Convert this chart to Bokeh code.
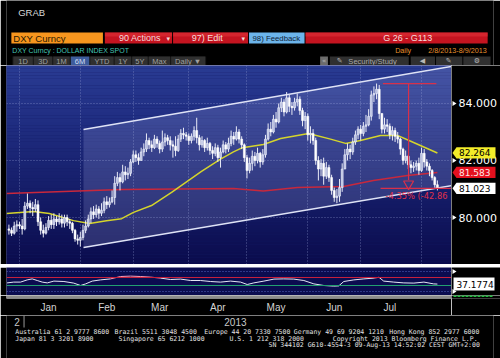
import numpy as np
import pandas as pd
from bokeh.plotting import figure
from bokeh.layouts import column, row
from bokeh.models import Range1d, FixedTicker, Span
from bokeh.core.properties import value
from bokeh.embed import file_html
from bokeh.resources import INLINE

# ---------------- data ----------------
dates = pd.bdate_range("2012-12-26", "2013-08-09")   # daily bars, DXY Curncy

opens = [
    79.60, 79.55, 79.45, 79.70,
    79.75, 79.70, 79.60, 80.40,
    80.50, 80.35, 80.30, 80.45, 79.85,
    79.55, 79.45, 79.65, 79.90, 79.75,
    79.95, 79.85, 79.95, 79.80, 80.00,
    79.85, 79.80, 79.55, 79.25,
    79.20,
    79.30, 79.55, 79.70, 79.95, 80.20,
    80.10, 80.30, 80.15, 80.25, 80.55,
    80.45, 80.55, 80.70, 81.20, 81.40,
    81.25, 81.60, 81.50, 81.55,
    81.95,
    82.20, 82.10, 82.00, 82.30, 82.40,
    82.70, 82.55, 82.45, 82.75, 82.60,
    82.40, 82.65, 82.80, 82.70, 82.55,
    82.50, 82.35, 82.75, 82.95, 82.90,
    82.85, 82.70, 82.85, 83.05, 82.80,
    82.55, 82.70, 82.45, 82.60, 82.35,
    82.25, 82.45, 82.10, 82.30, 82.55,
    82.40, 82.60, 82.85, 82.75, 83.00,
    82.75, 82.55,
    82.10, 81.65, 81.90,
    82.15, 82.00, 82.25, 81.95, 82.20,
    82.75, 83.10, 83.00, 83.45, 83.35,
    83.85, 84.05, 83.70, 84.20, 83.90,
    83.85, 84.05, 84.15, 83.75, 83.40,
    83.55, 82.90, 82.95, 82.70, 82.00,
    81.70, 81.90, 81.45, 81.75, 81.40,
    80.95, 80.70, 80.75, 81.05, 81.70,
    82.20, 82.40, 82.30, 82.65, 82.90,
    83.10, 82.95, 83.20, 83.25, 83.55,
    84.30, 84.35, 84.50, 83.65, 83.10,
    83.25, 83.20, 82.90, 83.05, 82.85,
    82.75, 82.40, 82.00, 82.15, 81.85,
    81.75, 81.80, 81.90,
    81.65, 82.25,
    81.95, 81.80, 81.65, 81.40, 81.15,
]
highs = [
    79.75, 79.65, 79.85, 79.90,
    79.85, 79.95, 80.55, 80.84,
    80.60, 80.55, 80.65, 80.60, 80.00,
    79.75, 79.80, 80.05, 80.10, 80.15,
    80.05, 80.15, 80.10, 80.10, 80.10,
    79.95, 79.85, 79.60, 79.40,
    79.50,
    79.75, 79.90, 80.10, 80.35, 80.40,
    80.45, 80.40, 80.50, 80.70, 80.75,
    80.70, 80.95, 81.45, 81.60, 81.55,
    81.85, 81.80, 81.75, 82.05,
    82.35,
    82.35, 82.25, 82.45, 82.60, 82.95,
    82.80, 82.70, 82.90, 82.85, 82.70,
    83.05, 82.95, 82.90, 82.85, 82.70,
    82.85, 82.90, 83.10, 83.15, 83.00,
    82.95, 82.95, 83.20, 83.50, 82.90,
    82.85, 82.75, 82.80, 82.65, 82.50,
    82.60, 82.55, 82.45, 82.70, 82.65,
    82.80, 83.05, 83.00, 83.20, 83.10,
    82.85, 82.60,
    82.20, 82.10, 82.35,
    82.30, 82.45, 82.30, 82.40, 82.90,
    83.30, 83.35, 83.60, 83.70, 84.00,
    84.20, 84.15, 84.40, 84.30, 84.05,
    84.20, 84.35, 84.25, 83.85, 83.70,
    83.65, 83.20, 83.10, 82.80, 82.15,
    82.05, 82.10, 81.95, 81.85, 81.50,
    81.05, 81.00, 81.35, 81.90, 82.40,
    82.60, 82.55, 82.80, 83.05, 83.20,
    83.25, 83.35, 83.60, 83.80, 84.45,
    84.60, 84.70, 84.65, 83.60, 83.50,
    83.45, 83.30, 83.20, 83.15, 83.00,
    82.80, 82.45, 82.35, 82.20, 82.00,
    81.95, 82.00, 82.10,
    82.45, 82.40,
    82.05, 81.90, 81.70, 81.45, 81.30,
]
lows = [
    79.40, 79.35, 79.40, 79.50,
    79.60, 79.40, 79.55, 80.30,
    80.15, 80.05, 80.20, 79.70, 79.40,
    79.30, 79.40, 79.55, 79.60, 79.60,
    79.70, 79.75, 79.65, 79.65, 79.70,
    79.60, 79.45, 79.15, 79.05,
    78.98,
    79.20, 79.45, 79.65, 79.80, 79.95,
    80.00, 79.95, 80.05, 80.15, 80.30,
    80.35, 80.50, 80.45, 81.10, 80.95,
    81.20, 81.30, 81.35, 81.45,
    81.90,
    81.95, 81.85, 82.00, 82.15, 82.30,
    82.40, 82.30, 82.40, 82.45, 82.25,
    82.30, 82.50, 82.55, 82.35, 82.10,
    82.15, 82.30, 82.65, 82.75, 82.70,
    82.55, 82.60, 82.70, 82.60, 82.35,
    82.45, 82.30, 82.35, 82.20, 82.05,
    82.15, 81.95, 81.75, 82.25, 82.25,
    82.30, 82.50, 82.55, 82.70, 82.60,
    82.40, 81.95,
    81.37, 81.55, 81.65,
    81.80, 81.90, 81.75, 81.85, 82.10,
    82.70, 82.85, 82.95, 83.15, 83.30,
    83.70, 83.55, 83.65, 83.70, 83.60,
    83.75, 83.90, 83.60, 83.20, 83.10,
    82.70, 82.60, 82.55, 81.85, 81.30,
    81.45, 81.15, 81.35, 81.25, 80.80,
    80.55, 80.50, 80.55, 80.90, 81.80,
    82.00, 82.05, 82.20, 82.55, 82.75,
    82.70, 82.85, 83.00, 83.20, 83.40,
    84.05, 84.15, 83.45, 82.95, 82.95,
    83.00, 82.75, 82.70, 82.65, 82.60,
    82.20, 81.85, 81.90, 81.70, 81.55,
    81.60, 81.65, 81.50,
    81.60, 81.75,
    81.65, 81.45, 81.30, 81.05, 80.95,
]
closes = [
    79.55, 79.45, 79.70, 79.75,
    79.70, 79.60, 80.40, 80.50,
    80.35, 80.30, 80.45, 79.85, 79.55,
    79.45, 79.65, 79.90, 79.75, 79.95,
    79.85, 79.95, 79.80, 80.00, 79.85,
    79.80, 79.55, 79.25, 79.20,
    79.30,
    79.55, 79.70, 79.95, 80.20, 80.10,
    80.30, 80.15, 80.25, 80.55, 80.45,
    80.55, 80.70, 81.20, 81.40, 81.25,
    81.60, 81.50, 81.55, 81.95,
    82.20,
    82.10, 82.00, 82.30, 82.40, 82.70,
    82.55, 82.45, 82.75, 82.60, 82.40,
    82.65, 82.80, 82.70, 82.55, 82.50,
    82.35, 82.75, 82.95, 82.90, 82.85,
    82.70, 82.85, 83.05, 82.80, 82.55,
    82.70, 82.45, 82.60, 82.35, 82.25,
    82.45, 82.10, 82.30, 82.55, 82.40,
    82.60, 82.85, 82.75, 83.00, 82.75,
    82.55, 82.10,
    81.65, 81.90, 82.15,
    82.00, 82.25, 81.95, 82.20, 82.75,
    83.10, 83.00, 83.45, 83.35, 83.85,
    84.05, 83.70, 84.20, 83.90, 83.85,
    84.05, 84.15, 83.75, 83.40, 83.55,
    82.90, 82.95, 82.70, 82.00, 81.70,
    81.90, 81.45, 81.75, 81.40, 80.95,
    80.70, 80.75, 81.05, 81.70, 82.20,
    82.40, 82.30, 82.65, 82.90, 83.10,
    82.95, 83.20, 83.25, 83.55, 84.30,
    84.35, 84.50, 83.65, 83.10, 83.25,
    83.20, 82.90, 83.05, 82.85, 82.75,
    82.40, 82.00, 82.15, 81.85, 81.75,
    81.80, 81.90, 81.65,
    82.25, 81.95,
    81.80, 81.65, 81.40, 81.15, 81.02,
]

# moving averages (bar index, value)
ma_fast_x = [-4.9, 5.3, 11.3, 20.4, 26.5, 32.9, 38.6, 43.1, 49.9, 57.5, 68.8, 76.0,
             80.9, 84.3, 92.2, 98.7, 105.1, 109.3, 117.6, 123.3, 128.9, 136.5, 142.9, 149.0, 158.0]
ma_fast_v = [80.14, 80.21, 80.14, 79.89, 79.79, 79.89, 79.96, 80.18, 80.42, 80.88, 81.62, 82.05,
             82.30, 82.45, 82.56, 82.77, 82.88, 82.95, 82.75, 82.60, 82.70, 82.88, 82.88, 82.63, 82.264]
ma_slow_x = [-4.9, 38.6, 80.9, 92.2, 105.1, 122.5, 133.8, 146.7, 158.0]
ma_slow_v = [80.84, 80.98, 81.02, 80.93, 81.05, 81.09, 81.30, 81.47, 81.583]

# user-drawn trend channel (bar index, price)
chan_x = [24.2, 163.3]
chan_upper = [83.09, 85.30]
chan_lower = [78.95, 81.12]

# measure tool
meas_high = 84.70
meas_low = 81.02
meas_top_x = [137.4, 157.6]
meas_bot_x = [136.5, 163.3]
meas_mid_x = 147.1
meas_label = "-4.35% (-42.86"

# lower study
rsi_x = [-4.7, -2.2, 0.4, 2.9, 4.8, 6.7, 8.6, 10.5, 13.0, 16.8, 20.5, 23.1, 25.0, 27.5,
         30.6, 34.4, 38.2, 42.0, 45.7, 49.5, 53.3, 57.1, 60.9, 64.7, 68.4, 72.2, 76.0,
         79.8, 83.6, 86.1, 88.6, 92.4, 96.2, 99.9, 103.7, 107.5, 111.3, 115.1, 118.8,
         120.7, 122.6, 126.4, 130.2, 134.0, 135.9, 137.7, 141.5, 145.3, 149.1, 152.9,
         156.6, 158.0]
rsi_v = [43, 47, 47, 58, 63, 55, 47, 43, 52, 50, 42, 30, 38, 52,
         58, 63, 75, 77, 75, 72, 67, 60, 62, 55, 55, 50, 47,
         52, 47, 35, 43, 52, 62, 63, 62, 55, 38, 30, 27,
         28, 50, 58, 63, 67, 71, 52, 47, 43, 42, 47,
         38, 37.1774]
rsi_levels = [70, 30]
rsi_ticks = [0, 100]
rsi_last_text = "37.1774"

price_ticks = [80, 82, 84]
month_labels = ["Jan", "Feb", "Mar", "Apr", "May", "Jun", "Jul"]
tag_vals = [82.264, 81.583, 81.023]
tag_text = ["82.264", "81.583", "81.023"]

# ---------------- derived indices ----------------
off = int(np.where(dates == pd.Timestamp("2013-01-01"))[0][0])
idx = np.arange(len(dates)) - off
mon = dates.month
month_starts = [int(i - off) for i in range(1, len(dates)) if mon[i] != mon[i - 1]]
month_mid = [int((a + b) // 2) for a, b in zip(month_starts[:-1], month_starts[1:])]

o = np.array(opens); c = np.array(closes); h = np.array(highs); l = np.array(lows)
body_top = np.maximum(o, c); body_bot = np.minimum(o, c)
wick_hi = np.maximum(h, body_top); wick_lo = np.minimum(l, body_bot)

XR = Range1d(-4.915, 163.33)
YR = Range1d(78.351, 85.333)
PX_PER_PRICE = 199 / (YR.end - YR.start)
SANS = "Liberation Sans"
MONO = "DejaVu Sans Mono"


def blank(width, height, xr, yr, **kw):
    args = dict(width=width, height=height, x_range=xr, y_range=yr, x_axis_location=None,
                y_axis_location=None, toolbar_location=None, output_backend="svg",
                min_border=0, background_fill_color="black", border_fill_color="black",
                outline_line_color=None)
    args.update(kw)
    f = figure(**args)
    f.grid.visible = False
    return f


# ---------------- header ----------------
hdr = blank(500, 65, Range1d(0, 500), Range1d(65, 0))
hdr.quad(left=[5, 101, 171, 249, 307], right=[99, 170, 248, 306, 494], top=32, bottom=43,
         fill_color=["#f7961e", "#c41420", "#c41420", "#6cb4ea", "#c41420"], line_color=None)
hdr.quad(left=[101, 171, 307], right=[170, 248, 494], top=32, bottom=36,
         fill_color="#e03038", fill_alpha=0.6, line_color=None)
btn_l = [7, 28, 48, 66, 86, 111, 129, 146, 169]
btn_r = [27, 47, 65, 85, 110, 128, 145, 168, 204]
btn_t = ["1D", "3D", "1M", "6M", "YTD", "1Y", "5Y", "Max", "Daily \u25bc"]
hdr.quad(left=6, right=205, top=56, bottom=65, fill_color="#141414", line_color=None)
hdr.quad(left=btn_l, right=btn_r, top=56, bottom=65,
         fill_color=["#3d5c9c" if t == "6M" else "#303030" for t in btn_t], line_color=None)
hdr.text(x=[(a + b) / 2 for a, b in zip(btn_l, btn_r)], y=60.7, text=btn_t,
         text_font=value(SANS), text_font_size="7.5px", text_align="center", text_baseline="middle",
         text_color=["#d0dcf4" if t == "6M" else "#a0a0a0" for t in btn_t])
hdr.quad(left=[322, 332, 415, 441, 469], right=[330, 413, 440, 468, 497], top=56, bottom=65,
         fill_color=["#6c6c6c", "#303030", "#303030", "#303030", "#303030"], line_color=None)
hdr.text(x=[326, 342, 427, 454, 483], y=60.7,
         text=["\u00ab", "\u270e", "\u25c0", "\u270e", "\u2699"],
         text_font=value("DejaVu Sans"), text_font_size="7px", text_align="center",
         text_baseline="middle", text_color="#b8b8b8")
hdr.text(x=[351], y=[60.7], text=["Security/Study"], text_font=value(SANS), text_font_size="7.5px",
         text_baseline="middle", text_color="#a8a8a8")
hdr.text(x=[12], y=[12], text=["GRAB"], text_font=value(SANS), text_font_size="9.5px",
         text_baseline="middle", text_color="#d8d8d8")
hdr.text(x=[7], y=[37.8], text=["DXY Curncy"], text_font=value(SANS), text_font_size="9.5px",
         text_baseline="middle", text_color="#2a1800")
hdr.text(x=[137, 206, 412], y=37.8, text=["90 Actions", "97) Edit", "G 26 - G113"],
         text_font=value(SANS), text_font_size="9px", text_align="center",
         text_baseline="middle", text_color="#f6dcdc")
hdr.text(x=[166, 243], y=38, text=["\u25be", "\u25be"], text_font=value("DejaVu Sans"),
         text_font_size="7px", text_align="center", text_baseline="middle", text_color="#f6dcdc")
hdr.text(x=[277], y=[37.8], text=["98) Feedback"], text_font=value(SANS), text_font_size="7.8px",
         text_align="center", text_baseline="middle", text_color="#0e2236")
hdr.text(x=[6], y=[49.8], text=["DXY Curncy : DOLLAR INDEX SPOT"], text_font=value(SANS),
         text_font_size="7px", text_baseline="middle", text_color="#44c4b4")
hdr.text(x=[399], y=[49.8], text=["Daily"], text_font=value(SANS), text_font_size="7.2px",
         text_baseline="middle", text_color="#e8902c")
hdr.text(x=[493], y=[49.8], text=["2/8/2013-8/9/2013"], text_font=value(SANS),
         text_font_size="7.2px", text_align="right", text_baseline="middle", text_color="#e8902c")

# ---------------- price panel ----------------
p = figure(width=451, height=199, x_range=XR, y_range=YR, x_axis_location=None,
           y_axis_location=None, toolbar_location=None, output_backend="svg",
           min_border_left=6, min_border_right=0, min_border_top=0, min_border_bottom=0,
           background_fill_color="#141c66", border_fill_color="black", outline_line_color=None)

# vertical background gradient (styling)
stops_y = [YR.start, 80.5, 83.0, YR.end]
stops_c = [(0x0a, 0x0b, 0x4c), (0x13, 0x1a, 0x64), (0x1e, 0x2b, 0x7e), (0x29, 0x3b, 0x92)]
edges = np.linspace(YR.start, YR.end, 61)
mids = (edges[:-1] + edges[1:]) / 2
cols = []
for m in mids:
    rgb = [np.interp(m, stops_y, [s[k] for s in stops_c]) for k in range(3)]
    cols.append("#%02x%02x%02x" % tuple(int(round(v)) for v in rgb))
bg = p.quad(left=XR.start - 1, right=XR.end + 1, bottom=edges[:-1], top=edges[1:],
            fill_color=cols, line_color=None)
bg.level = "image"

p.xgrid.ticker = FixedTicker(ticks=month_starts)
p.ygrid.ticker = FixedTicker(ticks=price_ticks)
for g in (p.xgrid, p.ygrid):
    g.grid_line_color = "#9aa4d8"
    g.grid_line_alpha = 0.55
    g.grid_line_dash = "1 2"
    g.grid_line_width = 1
    g.visible = True

# channel
p.patch(x=[chan_x[0], chan_x[1], chan_x[1], chan_x[0]],
        y=[chan_upper[0], chan_upper[1], chan_lower[1], chan_lower[0]],
        fill_color="#c8d0ff", fill_alpha=0.17, line_color=None)
p.line(chan_x, chan_upper, line_color="#dfe3f6", line_width=1.5)
p.line(chan_x, chan_lower, line_color="#dfe3f6", line_width=1.5)

# moving averages
p.line(ma_slow_x, ma_slow_v, line_color="#c8283c", line_width=1.5)
p.line(ma_fast_x, ma_fast_v, line_color="#d4d42c", line_width=1.5)

# candles
p.segment(x0=idx, y0=wick_lo, x1=idx, y1=wick_hi, line_color="#e8eaf6", line_width=1)
up = c >= o
p.vbar(x=idx[up], width=0.72, top=body_top[up], bottom=body_bot[up],
       fill_color="#b8bee0", line_color="#f4f6ff", line_width=0.6)
p.vbar(x=idx[~up], width=0.72, top=body_top[~up], bottom=body_bot[~up],
       fill_color="#ffffff", line_color="#ffffff", line_width=0.6)

# measure tool
mcol = "#d8304a"
p.line(meas_top_x, [meas_high, meas_high], line_color=mcol, line_width=1.2)
p.line(meas_bot_x, [meas_low, meas_low], line_color=mcol, line_width=1.2)
p.line([meas_mid_x, meas_mid_x], [meas_high, meas_low + 0.3], line_color=mcol, line_width=1.2)
p.scatter(x=[meas_mid_x], y=[meas_low + 0.16], marker="inverted_triangle", size=10,
          fill_color=None, line_color=mcol, line_width=1.2)
p.text(x=[meas_top_x[0] + 1.0], y=[meas_low - 0.26], text=[meas_label],
       text_font=value("DejaVu Sans"), text_font_size="8.3px", text_color="#e0304a",
       text_baseline="middle")

# ---------------- right price scale (ticks, labels, last-value tags) ----------------
side = blank(49, 199, Range1d(0, 49), YR)
d = 2.5 / PX_PER_PRICE
side.patches(xs=[[1, 1, 5] for _ in price_ticks],
             ys=[[t + d, t - d, t] for t in price_ticks],
             fill_color="white", line_color=None)
side.text(x=7, y=price_ticks, text=["%.3f" % t for t in price_ticks],
          text_font=value("DejaVu Sans"), text_font_size="11px", text_color="white",
          text_baseline="middle")
hh = 5.6 / PX_PER_PRICE
side.patches(xs=[[1, 5, 44, 44, 5] for _ in tag_vals],
             ys=[[v, v + hh, v + hh, v - hh, v - hh] for v in tag_vals],
             fill_color=["#f3ec2a", "#e4101e", "#ffffff"], line_color=None)
side.text(x=7.5, y=tag_vals, text=tag_text, text_font=value("DejaVu Sans"),
          text_font_size="9px", text_color=["#000000", "#ffe8e8", "#000000"],
          text_baseline="middle")

# ---------------- separators & study ----------------
gb1 = blank(500, 3, Range1d(0, 1), Range1d(0, 1), min_border_left=6, min_border_right=7)
gb1.quad(left=0, right=1, top=1, bottom=0, fill_color="#8c8c8c", line_color=None)

RR = Range1d(-20, 120)
rsi = figure(width=451, height=28, x_range=XR, y_range=RR, x_axis_location=None,
             y_axis_location=None, toolbar_location=None, output_backend="svg",
             min_border_left=6, min_border_right=0, min_border_top=0, min_border_bottom=0,
             background_fill_color="#0b0c50", border_fill_color="black", outline_line_color=None)
rsi.xgrid.visible = False
rsi.ygrid.ticker = FixedTicker(ticks=rsi_ticks)
rsi.ygrid.grid_line_color = "#5464bc"
rsi.ygrid.grid_line_dash = "1 2"
rsi.add_layout(Span(location=rsi_levels[0], dimension="width", line_color="#c8203c", line_width=1.2))
rsi.add_layout(Span(location=rsi_levels[1], dimension="width", line_color="#22a070", line_width=1.2))
seg_x, seg_y, seg_c = [], [], []
for k in range(len(rsi_x) - 1):
    seg_x.append([rsi_x[k], rsi_x[k + 1]])
    seg_y.append([rsi_v[k], rsi_v[k + 1]])
    seg_c.append("#ff9cb4" if (rsi_v[k] + rsi_v[k + 1]) / 2 >= 68 else "#e4e6f4")
rsi.multi_line(xs=seg_x, ys=seg_y, line_color=seg_c, line_width=1)

rside = blank(49, 28, Range1d(0, 49), RR)
dr = 2.5 / (28 / (RR.end - RR.start))
rside.patches(xs=[[1, 1, 5] for _ in rsi_ticks], ys=[[t + dr, t - dr, t] for t in rsi_ticks],
              fill_color="white", line_color=None)
hr = 6.5 / (28 / (RR.end - RR.start))
rside.quad(left=2, right=43, top=rsi_v[-1] + hr, bottom=rsi_v[-1] - hr,
           fill_color="white", line_color=None)
rside.text(x=5, y=[rsi_v[-1]], text=[rsi_last_text], text_font=value("DejaVu Sans"),
           text_font_size="9px", text_color="black", text_baseline="middle")

gb2 = figure(width=451, height=20, x_range=XR, y_range=Range1d(0, 1), x_axis_location="below",
             y_axis_location=None, toolbar_location=None, output_backend="svg",
             min_border_left=6, min_border_right=0, min_border_top=0, min_border_bottom=17,
             background_fill_color="#8c8c8c", border_fill_color="black", outline_line_color=None)
gb2.grid.visible = False
gb2.quad(left=XR.start, right=XR.end, top=1, bottom=0, fill_color="#8c8c8c", line_color=None)
xa = gb2.xaxis[0]
xa.ticker = FixedTicker(ticks=month_mid)
xa.major_label_overrides = {m: lab for m, lab in zip(month_mid, month_labels)}
xa.axis_line_color = None
xa.major_tick_line_color = None
xa.minor_tick_line_color = None
xa.major_tick_in = 0
xa.major_tick_out = 0
xa.minor_tick_out = 0
xa.major_label_standoff = 3
xa.major_label_text_color = "#d4d4d4"
xa.major_label_text_font = SANS
xa.major_label_text_font_size = "10px"

gside = blank(49, 20, Range1d(0, 49), Range1d(20, 0))
gside.line(x=[2, 42], y=[2.5, 2.5], line_color="#22c040", line_width=2, line_dash="3 1")

# ---------------- footer ----------------
ftr = blank(500, 43, Range1d(0, 500), Range1d(43, 0))
ftr.text(x=[8], y=[6], text=["2"], text_font=value(SANS), text_font_size="10px",
         text_baseline="middle", text_color="#c8c8c8")
ftr.segment(x0=[18], y0=[0], x1=[18], y1=[12], line_color="#9a9a9a", line_width=1)
ftr.text(x=[235], y=[6], text=["2013"], text_font=value(SANS), text_font_size="10px",
         text_align="center", text_baseline="middle", text_color="#c8c8c8")
fkw = dict(text_font=value(MONO), text_font_size="6.5px", text_baseline="middle", text_color="#e0e0e0")
ftr.text(x=[9, 111, 203, 295, 393], y=16,
         text=["Australia 61 2 9777 8600", "Brazil 5511 3048 4500", "Europe 44 20 7330 7500",
               "Germany 49 69 9204 1210", "Hong Kong 852 2977 6000"], **fkw)
ftr.text(x=[9, 115, 229, 335], y=23,
         text=["Japan 81 3 3201 8900", "Singapore 65 6212 1000", "U.S. 1 212 318 2000",
               "Copyright 2013 Bloomberg Finance L.P."], **fkw)
ftr.text(x=[486], y=[29.5], text=["SN 344102 G610-4554-3 09-Aug-13 14:52:02 CEST GMT+2:00"],
         text_align="right", **fkw)

layout = column(hdr, row(p, side, spacing=0), gb1, row(rsi, rside, spacing=0),
                row(gb2, gside, spacing=0), ftr, spacing=0)
open("out.html", "w").write(file_html(layout, INLINE))
